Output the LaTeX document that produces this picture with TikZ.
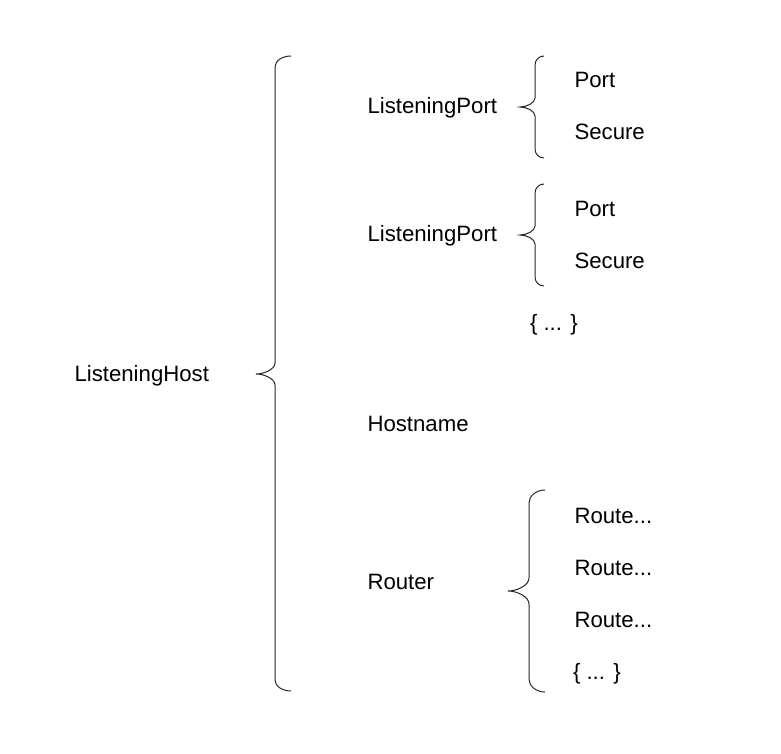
\documentclass[tikz,border=0pt]{standalone}
\usepackage{fontspec}
\setmainfont{Liberation Sans}
\newcommand{\bracepath}[7]{% #1 xend, #2 xline, #3 xtip, #4 ytop, #5 ymid, #6 ybot, #7 r
  \draw[bracestyle] (#1,#4)
    .. controls ({#2+0.448*(#1-#2)},#4) and (#2,{#4+0.448*#7}) .. (#2,{#4+#7})
    -- (#2,{#5-#7})
    .. controls (#2,{#5-0.448*#7}) and ({#2-0.552*(#2-#3)},#5) .. (#3,#5)
    .. controls ({#2-0.552*(#2-#3)},#5) and (#2,{#5+0.448*#7}) .. (#2,{#5+#7})
    -- (#2,{#6-#7})
    .. controls (#2,{#6-0.448*#7}) and ({#2+0.448*(#1-#2)},#6) .. (#1,#6);}
\begin{document}
\begin{tikzpicture}[x=1pt,y=-1pt,
  bracestyle/.style={draw=black!85,line width=1pt},
  lbl/.style={anchor=base west,inner sep=0pt,outer sep=0pt,font=\fontsize{22.2}{26}\selectfont}]
\useasboundingbox[fill=white] (0,0) rectangle (781,754);
% braces
\bracepath{291}{275}{256}{56}{374}{691}{11}
\bracepath{544}{535}{520}{56}{107}{158}{9}
\bracepath{544}{535}{520}{184}{235}{286}{9}
\bracepath{545}{529}{508}{490}{591}{692}{13}
% labels
\node[lbl] (host) at (74.5,381) {ListeningHost};
\node[lbl] (lp1) at (367.5,113.5) {ListeningPort};
\node[lbl] (port1) at (574.5,88) {Port};
\node[lbl] (sec1) at (574.5,140) {Secure};
\node[lbl] (lp2) at (367.5,241.5) {ListeningPort};
\node[lbl] (port2) at (574.5,216) {Port};
\node[lbl] (sec2) at (574.5,268) {Secure};
\node[lbl] (more1) at (530,330) {\{ ... \}};
\node[lbl] (hostname) at (367.5,431) {Hostname};
\node[lbl] (router) at (367.5,589.5) {Router};
\node[lbl] (r1) at (574.5,523.5) {Route...};
\node[lbl] (r2) at (574.5,575.5) {Route...};
\node[lbl] (r3) at (574.5,627.5) {Route...};
\node[lbl] (more2) at (573,679) {\{ ... \}};
\end{tikzpicture}
\end{document}
